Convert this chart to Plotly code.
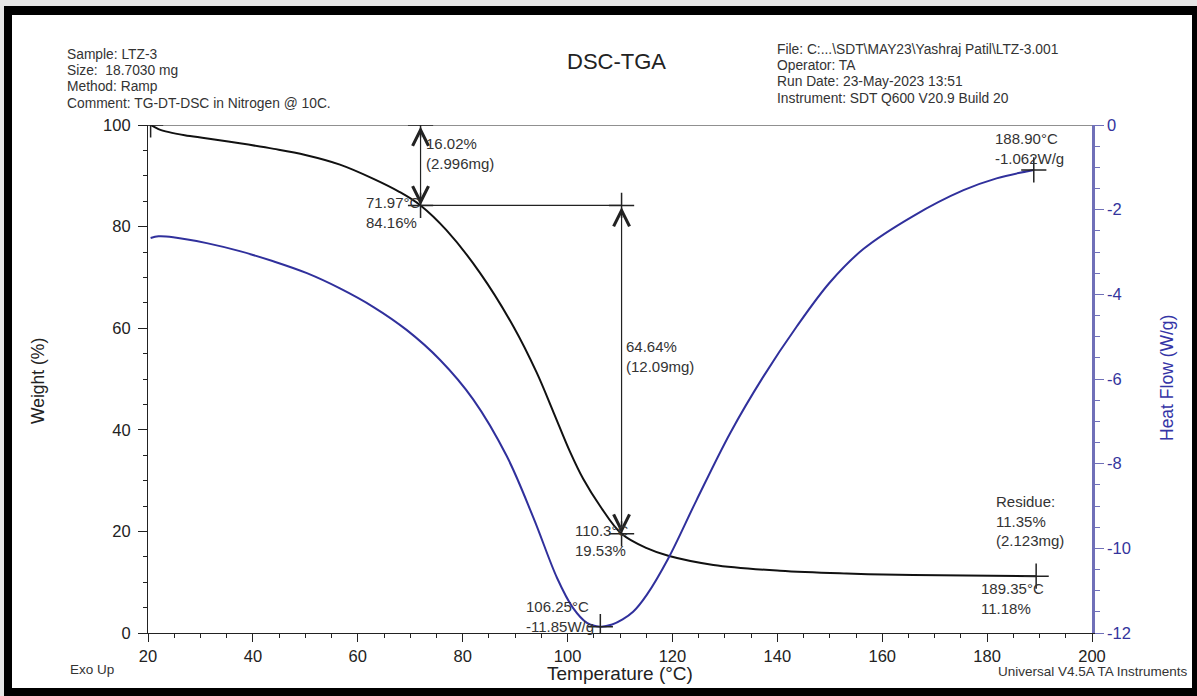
import plotly.graph_objects as go

# ---------------- data ----------------
temp_w = [20.5, 22.0, 24.0, 27.0, 31.0, 37.5, 44.0, 50.0, 56.6, 63.0, 68.0, 71.97, 76.9,
          83.3, 89.7, 94.1, 97.3, 100.5, 103.0, 106.2, 110.3, 115.1, 119.2, 127.8, 140.5,
          153.2, 165.9, 189.35]
weight = [100.0, 99.2, 98.6, 98.0, 97.4, 96.4, 95.3, 94.1, 92.2, 89.4, 86.8, 84.16, 79.3,
          70.9, 60.3, 51.3, 43.5, 35.6, 30.3, 25.0, 19.53, 16.7, 15.2, 13.4, 12.25,
          11.7, 11.4, 11.18]

temp_h = [20.5, 22.0, 24.8, 31.2, 37.5, 43.9, 50.3, 56.6, 63.0, 69.3, 75.7, 82.0, 88.4,
          93.5, 98.0, 101.0, 103.7, 106.25, 108.5, 110.5, 112.5, 115.1, 119.2, 124.6,
          131.0, 137.3, 143.7, 150.0, 156.4, 165.9, 175.5, 181.8, 188.9]
heat = [-2.67, -2.63, -2.65, -2.79, -2.98, -3.22, -3.50, -3.86, -4.30, -4.84, -5.55, -6.48,
        -7.82, -9.28, -10.70, -11.40, -11.76, -11.85, -11.80, -11.68, -11.50, -11.10,
        -10.24, -8.86, -7.28, -5.95, -4.76, -3.72, -2.93, -2.15, -1.54, -1.26, -1.062]

x_ticks = [20, 40, 60, 80, 100, 120, 140, 160, 180, 200]
y_ticks = [0, 20, 40, 60, 80, 100]
y2_ticks = [0, -2, -4, -6, -8, -10, -12]
y2_labels = ["0", "-2", "-4", "-6", "-8", "-10", "-12"]

# step analysis values and their printed labels
step1_T, step1_start, step1_end = 71.97, 100.0, 84.16
step2_T, step2_start, step2_end = 110.3, 84.16, 19.53
step1_loss = ["16.02%", "(2.996mg)"]
step2_loss = ["64.64%", "(12.09mg)"]
residue = ["Residue:", "11.35%", "(2.123mg)"]
res_T, res_W = 189.35, 11.18
peak_T, peak_H = 106.25, -11.85
end_T, end_H = 188.90, -1.062
start_T, start_W = 20.5, 100.0

header_left = ["Sample: LTZ-3", "Size:  18.7030 mg", "Method: Ramp",
               "Comment: TG-DT-DSC in Nitrogen @ 10C."]
header_right = ["File: C:...\\SDT\\MAY23\\Yashraj Patil\\LTZ-3.001", "Operator: TA",
                "Run Date: 23-May-2023 13:51", "Instrument: SDT Q600 V20.9 Build 20"]

# ---------------- layout geometry ----------------
W_PX, H_PX = 1197, 696
L, R, T, B = 148, 1092, 125, 633
def PX(x):
    return (x - L) / (R - L)
def PY(y):
    return (B - y) / (B - T)

FONT = "Liberation Sans, Arial, sans-serif"
TXT = "#333333"
BLUE = "#30309c"
AX2 = "#7070b8"

fig = go.Figure()

fig.add_trace(go.Scatter(x=temp_w, y=weight, mode="lines", yaxis="y",
                         line=dict(color="#111111", width=2, shape="spline", smoothing=1.0),
                         hoverinfo="skip", showlegend=False))
fig.add_trace(go.Scatter(x=temp_h, y=heat, mode="lines", yaxis="y2",
                         line=dict(color=BLUE, width=2, shape="spline", smoothing=1.0),
                         hoverinfo="skip", showlegend=False))

# crosshair markers
fig.add_trace(go.Scatter(x=[start_T, step1_T, step1_T, step2_T, step2_T, res_T],
                         y=[start_W, step1_start, step1_end, step2_start, step2_end, res_W],
                         mode="markers", yaxis="y",
                         marker=dict(symbol="cross-thin", size=18,
                                     line=dict(color="#222222", width=1.5)),
                         hoverinfo="skip", showlegend=False))
fig.add_trace(go.Scatter(x=[peak_T, end_T], y=[peak_H, end_H],
                         mode="markers", yaxis="y2",
                         marker=dict(symbol="cross-thin", size=18,
                                     line=dict(color="#222222", width=1.5)),
                         hoverinfo="skip", showlegend=False))

shapes = []
shapes.append(dict(type="line", xref="x", yref="y", x0=x_ticks[0], x1=x_ticks[-1],
                   y0=step1_start, y1=step1_start, line=dict(color="#222222", width=1.2)))
shapes.append(dict(type="line", xref="x", yref="y", x0=step1_T, x1=step2_T,
                   y0=step2_start, y1=step2_start, line=dict(color="#222222", width=1.2)))

# black frame around the picture
frame = "#000000"
grey = "#e6e6e6"
shapes += [
    dict(type="rect", xref="paper", yref="paper", x0=PX(0), x1=PX(W_PX), y0=PY(0), y1=PY(6),
         fillcolor=grey, line=dict(width=0), layer="above"),
    dict(type="rect", xref="paper", yref="paper", x0=PX(0), x1=PX(4), y0=PY(0), y1=PY(H_PX),
         fillcolor=grey, line=dict(width=0), layer="above"),
    dict(type="rect", xref="paper", yref="paper", x0=PX(4), x1=PX(W_PX), y0=PY(6), y1=PY(15),
         fillcolor=frame, line=dict(width=0), layer="above"),
    dict(type="rect", xref="paper", yref="paper", x0=PX(4), x1=PX(12), y0=PY(6), y1=PY(H_PX),
         fillcolor=frame, line=dict(width=0), layer="above"),
    dict(type="rect", xref="paper", yref="paper", x0=PX(4), x1=PX(W_PX), y0=PY(688), y1=PY(H_PX),
         fillcolor=frame, line=dict(width=0), layer="above"),
    dict(type="rect", xref="paper", yref="paper", x0=PX(1192), x1=PX(W_PX), y0=PY(6), y1=PY(H_PX),
         fillcolor=frame, line=dict(width=0), layer="above"),
]

ann = []
def arrow(xv, y_head, y_tail):
    return dict(x=xv, y=y_head, ax=xv, ay=y_tail, xref="x", yref="y", axref="x", ayref="y",
                text="", showarrow=True, arrowhead=5, startarrowhead=5, arrowside="end+start",
                arrowsize=2.6, startarrowsize=2.6, arrowwidth=1.2, arrowcolor="#222222",
                standoff=0, startstandoff=0)
ann.append(arrow(step1_T, step1_end, step1_start))
ann.append(arrow(step2_T, step2_end, step2_start))

ASIZE = 15
def dtext(x, y, text, xa, ya="middle", xs=0, ys=0, yref="y", align="left"):
    return dict(x=x, y=y, xref="x", yref=yref, text=text, showarrow=False,
                xanchor=xa, yanchor=ya, xshift=xs, yshift=ys, align=align,
                font=dict(family=FONT, size=ASIZE, color=TXT))

ann.append(dtext(step1_T, step1_start, "<br>".join(step1_loss), "left", xs=3, ys=-28))
ann.append(dtext(step1_T, step1_end, "%.2f°C<br>%.2f%%" % (step1_T, step1_end),
                 "right", xs=2, ys=-7, align="left"))
ann.append(dtext(step2_T, (step2_start + step2_end) / 2, "<br>".join(step2_loss),
                 "left", xs=2, ys=13))
ann.append(dtext(step2_T, step2_end, "%.1f°C<br>%.2f%%" % (step2_T, step2_end),
                 "left", xs=-49, ys=-7))
ann.append(dtext(peak_T, peak_H, "%.2f°C<br>%.2fW/g" % (peak_T, peak_H),
                 "right", xs=-4, ys=10, yref="y2"))
ann.append(dtext(end_T, end_H, "%.2f°C<br>%.3fW/g" % (end_T, end_H),
                 "center", xs=-4, ys=21, yref="y2"))
ann.append(dtext(res_T, res_W, "<br>".join(residue), "left", xs=-42, ys=55))
ann.append(dtext(res_T, res_W, "%.2f°C<br>%.2f%%" % (res_T, res_W), "left", xs=-57, ys=-22))

def ptext(xp, yp, text, xa="left", size=15, color=TXT, angle=0):
    return dict(x=PX(xp), y=PY(yp), xref="paper", yref="paper", text=text, showarrow=False,
                xanchor=xa, yanchor="middle", textangle=angle,
                font=dict(family=FONT, size=size, color=color))

for i, line in enumerate(header_left):
    ann.append(ptext(65, 54 + i * 16.5, line, size=13.8))
for i, line in enumerate(header_right):
    ann.append(ptext(775, 49 + i * 16.5, line, size=13.8))
ann.append(ptext(616, 61, "DSC-TGA", xa="center", size=22, color="#222222"))
ann.append(ptext(68, 669, "Exo Up", size=13.5))
ann.append(ptext(620, 673, "Temperature (°C)", xa="center", size=19, color="#222222"))
ann.append(ptext(1190, 671, "Universal V4.5A TA Instruments", xa="right", size=13.5))
ann.append(ptext(38, 381, "Weight (%)", xa="center", size=17.5, color="#222222", angle=-90))
ann.append(ptext(1167, 378, "Heat Flow (W/g)", xa="center", size=17.5, color="#3434a6", angle=-90))

fig.update_layout(
    width=W_PX, height=H_PX,
    margin=dict(l=L, r=W_PX - R, t=T, b=H_PX - B, pad=0),
    paper_bgcolor="white", plot_bgcolor="white",
    font=dict(family=FONT, color="#222222"),
    showlegend=False,
    xaxis=dict(range=[x_ticks[0], x_ticks[-1]], tickvals=x_ticks, showgrid=False, zeroline=False,
               showline=True, linecolor="#222222", linewidth=1.2,
               ticks="outside", ticklen=8, tickcolor="#222222", tickwidth=1.2,
               minor=dict(dtick=5, ticks="outside", ticklen=4, tickcolor="#222222"),
               tickfont=dict(family=FONT, size=16.5, color="#222222")),
    yaxis=dict(range=[y_ticks[0], y_ticks[-1]], tickvals=y_ticks, showgrid=False, zeroline=False,
               showline=True, linecolor="#222222", linewidth=1.2,
               ticks="outside", ticklen=9, tickcolor="#222222", tickwidth=1.2,
               ticklabelstandoff=4,
               minor=dict(dtick=5, ticks="outside", ticklen=4, tickcolor="#222222"),
               tickfont=dict(family=FONT, size=16.5, color="#222222")),
    yaxis2=dict(range=[y2_ticks[-1], y2_ticks[0]], tickvals=y2_ticks, ticktext=y2_labels,
                overlaying="y", side="right",
                anchor="x", showgrid=False, zeroline=False,
                showline=True, linecolor=AX2, linewidth=2.5,
                ticks="outside", ticklen=9, tickcolor=AX2, tickwidth=1.2,
                minor=dict(dtick=0.5, ticks="outside", ticklen=5, tickcolor=AX2),
                tickfont=dict(family=FONT, size=16.5, color="#34349c")),
    shapes=shapes, annotations=ann,
)

fig.write_html("out.html")
